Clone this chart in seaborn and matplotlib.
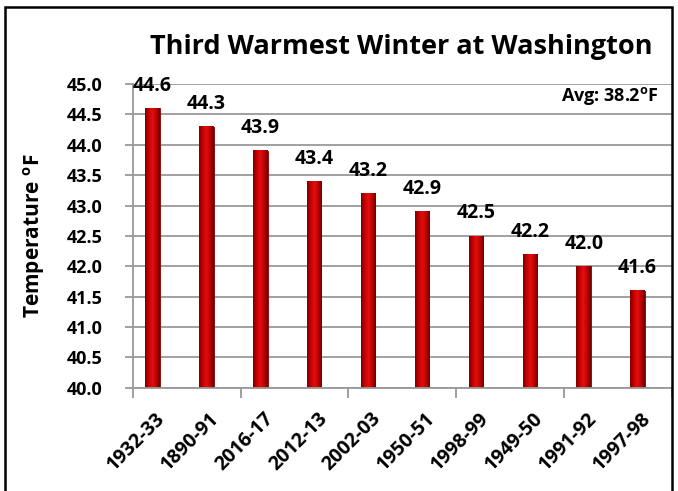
import numpy as np
import pandas as pd
import seaborn as sns
from matplotlib import pyplot as plt
from matplotlib.colors import LinearSegmentedColormap
from matplotlib.patches import Rectangle
from matplotlib.transforms import ScaledTranslation

winters = ["1932-33", "1890-91", "2016-17", "2012-13", "2002-03",
           "1950-51", "1998-99", "1949-50", "1991-92", "1997-98"]
temps = [44.6, 44.3, 43.9, 43.4, 43.2, 42.9, 42.5, 42.2, 42.0, 41.6]
y_ticks = [40.0, 40.5, 41.0, 41.5, 42.0, 42.5, 43.0, 43.5, 44.0, 44.5, 45.0]
avg_text = "Avg: 38.2$^\\mathregular{o}$F"


def shade_bars(ax, ymin):
    """ cylinder look: dark edges, bright middle """
    cmap = LinearSegmentedColormap.from_list(
        "cyl", ["#7a0000", "#c80000", "#e01010", "#c00000", "#6a0000"])
    grad = np.linspace(0, 1, 64).reshape(1, -1)
    for p in list(ax.patches):
        x0, w = p.get_x(), p.get_width()
        top = p.get_y() + p.get_height()
        im = ax.imshow(grad, cmap=cmap, aspect="auto",
                       extent=(x0, x0 + w, ymin, top), zorder=p.get_zorder())
        im.set_clip_path(p)
        im.set_clip_box(ax.bbox)


def plot_winters():
    sns.set_theme(style="white")
    plt.rcParams['font.family'] = ['Open Sans', 'DejaVu Sans']
    plt.rcParams['font.weight'] = 'bold'
    plt.rcParams['text.color'] = 'black'
    plt.rcParams['axes.labelcolor'] = 'black'

    df = pd.DataFrame({"winter": winters, "temp": temps})

    fig = plt.figure(figsize=(6.78, 4.91), dpi=100)
    ax = fig.add_axes([0.196, 0.21, 0.795, 0.619])

    sns.barplot(data=df, x="winter", y="temp", color="#c00000",
                width=0.27, edgecolor="#800000", linewidth=0.6, ax=ax,
                saturation=1)
    shade_bars(ax, y_ticks[0])

    ax.set_ylim(40, 45)
    # bars sit a little left of their category slot, like the excel original
    ax.set_xlim(-0.364, len(winters) - 0.564)
    ax.set_yticks(y_ticks)
    ax.set_yticklabels([f"{v:.1f}" for v in y_ticks], fontsize=13,
                       fontweight="bold")
    ax.yaxis.grid(True, color="#999999", linewidth=1.3)
    ax.set_axisbelow(True)

    ax.set_xticks(np.arange(len(winters)))
    ax.set_xticklabels(winters, rotation=45, ha="right", va="center",
                       rotation_mode="anchor", fontsize=14, fontweight="bold")
    ax.tick_params(axis="x", length=0, pad=20, labelcolor="black")
    shift = ScaledTranslation(10 / 100, 0, fig.dpi_scale_trans)
    for lab in ax.get_xticklabels():
        lab.set_transform(lab.get_transform() + shift)
    ax.set_xticks(np.arange(-0.364, len(winters), 2), minor=True)
    ax.tick_params(axis="x", which="minor", length=7, color="#999999",
                   width=1.3, direction="out", bottom=True)
    ax.tick_params(axis="y", length=6, color="#999999", width=1.3,
                   direction="out", left=True, pad=16, labelcolor="black")

    for s in ["top", "right"]:
        ax.spines[s].set_visible(False)
    for s in ["left", "bottom"]:
        ax.spines[s].set_color("#999999")
        ax.spines[s].set_linewidth(1.3)

    ax.set_xlabel("")
    ax.set_ylabel("Temperature $^\\mathregular{o}$F", fontsize=15,
                  fontweight="bold", labelpad=14)

    for i, t in enumerate(temps):
        ax.annotate(f"{t:.1f}", (i, t), xytext=(0, 9),
                    textcoords="offset points", ha="center", va="bottom",
                    fontsize=14, fontweight="bold")

    ax.text(0.975, 0.96, avg_text, transform=ax.transAxes, ha="right",
            va="center", fontsize=13, fontweight="bold")

    fig.text(0.592, 0.904, "Third Warmest Winter at Washington",
             ha="center", va="center", fontsize=19.5, fontweight="bold")

    fig.patches.append(Rectangle((0.0075, -0.02), 0.984, 1.0057,
                                 transform=fig.transFigure, fill=False,
                                 edgecolor="black", linewidth=1.8))

    fig.savefig("out.png", dpi=100)


if __name__ == "__main__":
    plot_winters()
